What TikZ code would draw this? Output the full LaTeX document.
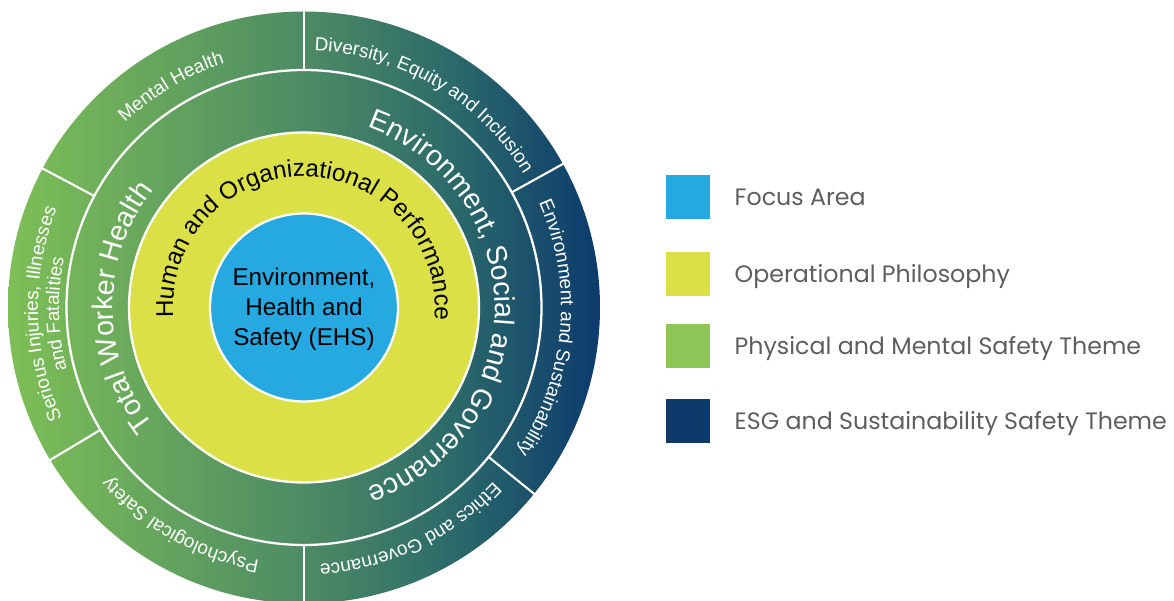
\documentclass[tikz,border=0pt]{standalone}
\usepackage{fontspec}
\setmainfont{Liberation Sans}
\newfontfamily\legendfont{Poppins}
\usetikzlibrary{positioning,decorations.text}
\definecolor{ehsblue}{HTML}{26A9E0}
\definecolor{hopyellow}{HTML}{DBE046}
\definecolor{themegreen}{HTML}{8DC556}
\definecolor{themenavy}{HTML}{0E3A6B}
\definecolor{ringleft}{HTML}{7EBF56}
\definecolor{ringmid}{HTML}{4D8B64}
\definecolor{ringteal}{HTML}{2C6A6A}
\definecolor{ringright}{HTML}{0C3A6D}
\definecolor{legendgray}{HTML}{5E5E5E}
\pgfdeclarehorizontalshading{ringshade}{100bp}{color(0bp)=(ringleft); color(25bp)=(ringleft); color(50bp)=(ringmid); color(62.5bp)=(ringteal); color(75bp)=(ringright); color(100bp)=(ringright)}
\tikzset{swatch/.style={rectangle,minimum size=0.88cm,inner sep=0pt}}
\tikzset{legendtext/.style={anchor=west,inner sep=0pt,text height=9.5pt,text depth=0pt,text=legendgray,font=\legendfont\fontsize{13.5}{16}\selectfont}}
\tikzset{divider/.style={draw=white,line width=1.2pt}}
\tikzset{rim/.style={draw=white,line width=1.3pt}}
\tikzset{ringtext/.style={decorate,decoration={text along path,text align=center,#1}}}

\begin{document}
\begin{tikzpicture}[x=0.02cm,y=0.02cm]
    \useasboundingbox (0,0) rectangle (1174,601);
    \coordinate (hub) at (304,293.5);

    \begin{scope}[shift={(hub)}]
        \shade[shading=ringshade] (0,0) circle (296);
        \draw[rim] (0,0) circle (237.5);
        \foreach \a in {29,90,152,211,270,321}
            \draw[divider] (\a:237.5) -- (\a:297);
        \filldraw[rim,fill=hopyellow] (0,0) circle (175);
        \filldraw[rim,fill=ehsblue] (0,0) circle (94);

        \node[align=center,font=\fontsize{13.8}{17}\selectfont] (focus) at (0,-2) {Environment,\\Health and\\Safety (EHS)};

        \path[ringtext={text={|\fontsize{13.8}{16}\selectfont|Human and Organizational Performance}}]
            (200:131) arc[start angle=200,end angle=-21,radius=131];

        \path[ringtext={text={|\fontsize{16.2}{19}\selectfont\color{white}|Total Worker Health}}]
            (255:191) arc[start angle=255,end angle=105,radius=191];
        \path[ringtext={text={|\fontsize{16.2}{19}\selectfont\color{white}|Environment, Social and Governance}}]
            (87:191) arc[start angle=87,end angle=-87,radius=191];

        \path[ringtext={text={|\fontsize{10.8}{12}\selectfont\color{white}|Mental Health}}]
            (150:257) arc[start angle=150,end angle=92,radius=257];
        \path[ringtext={text={|\fontsize{10.8}{12}\selectfont\color{white}|Diversity, Equity and Inclusion}}]
            (95:257) arc[start angle=95,end angle=24,radius=257];
        \path[ringtext={text={|\fontsize{10.8}{12}\selectfont\color{white}|Environment and Sustainability}}]
            (40:257) arc[start angle=40,end angle=-50,radius=257];
        \path[ringtext={text={|\fontsize{10.8}{12}\selectfont\color{white}|Ethics and Governance}}]
            (-30:257) arc[start angle=-30,end angle=-99,radius=257];
        \path[ringtext={text={|\fontsize{10.8}{12}\selectfont\color{white}|Psychological Safety}}]
            (275:257) arc[start angle=275,end angle=206,radius=257];
        \path[ringtext={text={|\fontsize{10.8}{12}\selectfont\color{white}|Serious Injuries, Illnesses}}]
            (220:266) arc[start angle=220,end angle=143,radius=266];
        \path[ringtext={text={|\fontsize{10.8}{12}\selectfont\color{white}|and Fatalities}}]
            (220:245) arc[start angle=220,end angle=143,radius=245];
    \end{scope}

    \node[swatch,fill=ehsblue] (keyfocus) at (688,404) {};
    \node[swatch,fill=hopyellow] (keyphilo) at (688,327) {};
    \node[swatch,fill=themegreen] (keysafety) at (688,255) {};
    \node[swatch,fill=themenavy] (keyesg) at (688,180) {};

    \node[legendtext,right=0.48cm of keyfocus] (labfocus) {Focus Area};
    \node[legendtext,right=0.48cm of keyphilo] (labphilo) {Operational Philosophy};
    \node[legendtext,right=0.48cm of keysafety] (labsafety) {Physical and Mental Safety Theme};
    \node[legendtext,right=0.48cm of keyesg] (labesg) {ESG and Sustainability Safety Theme};
\end{tikzpicture}
\end{document}
